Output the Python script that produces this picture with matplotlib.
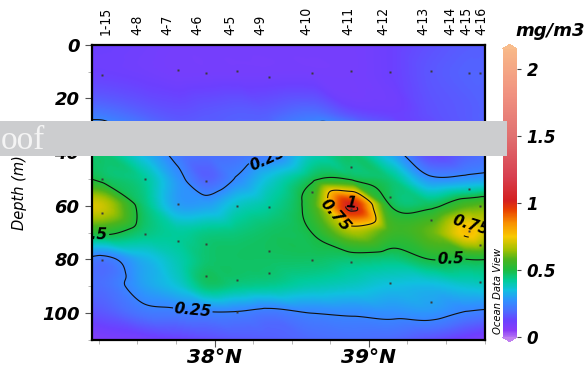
import numpy as np
import matplotlib
matplotlib.use("Agg")
import matplotlib.pyplot as plt
import matplotlib.tri as mtri
from matplotlib.colors import LinearSegmentedColormap, Normalize
from matplotlib.cm import ScalarMappable
from matplotlib.patches import Rectangle
from matplotlib.ticker import MultipleLocator, FixedLocator

# ---------------- data ----------------
station_names = ['1-15', '4-8', '4-7', '4-6', '4-5', '4-9', '4-10',
                 '4-11', '4-12', '4-13', '4-14', '4-15', '4-16']
station_label_lat = [37.293, 37.501, 37.694, 37.888, 38.102, 38.296, 38.598,
                     38.866, 39.093, 39.352, 39.527, 39.635, 39.732]

# gridded chlorophyll (mg/m3) read from the section
grid_lat = [37.20, 37.27, 37.55, 37.76, 37.95, 38.15, 38.35,
            38.63, 38.89, 39.14, 39.40, 39.65, 39.76]
grid_depth = [0, 10, 25, 40, 50, 60, 70, 80, 90, 100, 110]
chl_d0   = [0.12, 0.12, 0.11, 0.10, 0.10, 0.10, 0.10, 0.10, 0.10, 0.12, 0.15, 0.17, 0.17]
chl_d10  = [0.12, 0.12, 0.11, 0.10, 0.10, 0.10, 0.10, 0.10, 0.10, 0.12, 0.16, 0.18, 0.18]
chl_d25  = [0.21, 0.21, 0.17, 0.15, 0.16, 0.17, 0.17, 0.20, 0.14, 0.12, 0.15, 0.17, 0.18]
chl_d40  = [0.45, 0.45, 0.32, 0.22, 0.20, 0.20, 0.22, 0.38, 0.45, 0.30, 0.13, 0.18, 0.20]
chl_d50  = [0.50, 0.48, 0.42, 0.28, 0.18, 0.26, 0.36, 0.48, 0.49, 0.45, 0.27, 0.28, 0.29]
chl_d60  = [0.72, 0.70, 0.45, 0.30, 0.30, 0.38, 0.42, 0.55, 1.02, 0.50, 0.48, 0.58, 0.60]
chl_d70  = [0.52, 0.52, 0.45, 0.42, 0.44, 0.45, 0.47, 0.50, 0.66, 0.56, 0.60, 0.77, 0.70]
chl_d80  = [0.23, 0.22, 0.33, 0.40, 0.46, 0.47, 0.47, 0.47, 0.46, 0.45, 0.50, 0.50, 0.50]
chl_d90  = [0.20, 0.20, 0.30, 0.36, 0.46, 0.44, 0.43, 0.40, 0.38, 0.35, 0.34, 0.37, 0.38]
chl_d100 = [0.15, 0.16, 0.22, 0.23, 0.24, 0.24, 0.22, 0.25, 0.26, 0.27, 0.28, 0.24, 0.23]
chl_d110 = [0.07, 0.08, 0.10, 0.12, 0.14, 0.16, 0.17, 0.19, 0.20, 0.19, 0.15, 0.10, 0.08]

# sample positions (station latitude, depth m)
sample_lat = [37.271]*4 + [37.547]*2 + [37.763]*3 + [37.948]*4 + [38.147]*4 + \
             [38.350]*4 + [38.633]*3 + [38.887]*4 + [39.136]*3 + [39.403]*3 + \
             [39.652]*3 + [39.721]*4
sample_depth = [11.2, 50.1, 62.6, 80.2,
                50.0, 70.6,
                9.4, 59.3, 73.0,
                10.4, 50.6, 74.3, 86.0,
                9.7, 60.1, 87.8, 99.7,
                11.9, 60.6, 76.8, 84.9,
                10.4, 54.9, 80.2,
                9.8, 45.7, 61.3, 80.9,
                10.3, 56.8, 88.6,
                9.7, 65.3, 95.8,
                10.5, 53.9, 69.3,
                10.4, 60.1, 74.6, 88.5]

contour_levels = [0.25, 0.5, 0.75, 1.0]
cbar_ticks = [0, 0.5, 1, 1.5, 2]
lat_ticks = [38, 39]
depth_ticks = [0, 20, 40, 60, 80, 100]

# ---------------- colormap (ODV-like) ----------------
VMIN, VMAX = 0.0, 2.15
cm_nodes = [(0.00, '#b472f2'), (0.05, '#8a3cf8'), (0.12, '#6c40ff'),
            (0.20, '#4a70ff'), (0.27, '#3090ff'), (0.35, '#10c0e0'),
            (0.42, '#00cc9c'), (0.50, '#1cbc40'), (0.58, '#4cb41c'),
            (0.65, '#a0c000'), (0.75, '#f8c800'), (0.85, '#f89000'),
            (0.95, '#e84000'), (1.02, '#d42020'), (1.20, '#d84050'),
            (1.50, '#e07070'), (1.80, '#f09080'), (2.15, '#f8b888')]
cmap = LinearSegmentedColormap.from_list(
    'odv', [((v - VMIN) / (VMAX - VMIN), c) for v, c in cm_nodes], N=512)
cmap.set_under('#c080f0')
cmap.set_over('#f8bc8c')
norm = Normalize(VMIN, VMAX)

# ---------------- figure ----------------
W, H = 588, 369
fig = plt.figure(figsize=(W / 100, H / 100), dpi=100)
ax = fig.add_axes([92 / W, 1 - 340 / H, (485 - 92) / W, (340 - 44.7) / H])

# smooth field through matplotlib.tri cubic interpolation
glat = np.array(grid_lat)
gdep = np.array(grid_depth, dtype=float)
Z = np.array([chl_d0, chl_d10, chl_d25, chl_d40, chl_d50, chl_d60, chl_d70,
              chl_d80, chl_d90, chl_d100, chl_d110])
LAT, DEP = np.meshgrid(glat, gdep)
nx, ny = len(glat), len(gdep)
tris = []
for j in range(ny - 1):
    for i in range(nx - 1):
        a = j * nx + i
        tris.append([a, a + 1, a + nx + 1])
        tris.append([a, a + nx + 1, a + nx])
sx, sy = 154.4, 2.685   # isotropic scaling for the interpolation
tri = mtri.Triangulation(LAT.ravel() * sx, DEP.ravel() * sy, np.array(tris))
interp = mtri.CubicTriInterpolator(tri, Z.ravel(), kind='geom')

x0, x1 = 37.206, 39.753
y0, y1 = 0.0, 110.0
fx = np.linspace(x0, x1, 500)
fy = np.linspace(y0, y1, 300)
FX, FY = np.meshgrid(fx, fy)
F = interp(FX * sx, FY * sy)
F = np.ma.filled(F, np.nan)
F = np.clip(F, 0.0, None)

ax.imshow(F, extent=(x0, x1, y1, y0), origin='upper', aspect='auto',
          cmap=cmap, norm=norm, interpolation='bilinear', zorder=1)
cs = ax.contour(FX, FY, F, levels=contour_levels, colors='#111111',
                linewidths=0.8, zorder=2)
label_pos = [(38.36, 44.5), (37.22, 70), (38.88, 60), (38.72, 67.5),
             (39.66, 67), (39.53, 81), (37.86, 98)]
labels = ax.clabel(cs, manual=label_pos, inline=True, inline_spacing=3,
                   fontsize=11, fmt={0.25: '0.25', 0.5: '0.5', 0.75: '0.75', 1.0: '1'})
for t in labels:
    t.set_fontweight('bold')
    t.set_fontstyle('italic')
    t.set_color('black')

ax.plot(sample_lat, sample_depth, 's', ms=1.8, color='#3a3a3a', mec='none', zorder=3)

ax.set_xlim(x0, x1)
ax.set_ylim(y1, y0)
for s in ax.spines.values():
    s.set_linewidth(1.6)
    s.set_color('black')

ax.xaxis.set_major_locator(FixedLocator(lat_ticks))
ax.xaxis.set_minor_locator(MultipleLocator(0.25))
ax.set_xticklabels([f'{v}°N' for v in lat_ticks])
ax.yaxis.set_major_locator(FixedLocator(depth_ticks))
ax.yaxis.set_minor_locator(MultipleLocator(10))
ax.tick_params(axis='both', which='major', direction='out', length=5, width=0.8, color='#555555')
ax.tick_params(axis='both', which='minor', direction='out', length=3, width=0.6, color='#aaaaaa')
ax.tick_params(axis='x', labelsize=14.5, pad=1)
ax.tick_params(axis='y', labelsize=13, pad=4)
for t in ax.get_xticklabels() + ax.get_yticklabels():
    t.set_fontweight('bold')
    t.set_fontstyle('italic')

ax.set_ylabel('Depth (m)', fontsize=10.5, fontstyle='italic', labelpad=11)

# station labels on top
for name, lat in zip(station_names, station_label_lat):
    ax.annotate(name, xy=(lat, 1.0), xycoords=('data', 'axes fraction'),
                xytext=(0, 10), textcoords='offset pixels', rotation=90,
                ha='center', va='bottom', fontsize=10, fontstretch='condensed')

# colorbar
cax = fig.add_axes([502.7 / W, 1 - 341.7 / H, 14 / W, (341.7 - 44.4) / H])
sm = ScalarMappable(norm=norm, cmap=cmap)
cb = fig.colorbar(sm, cax=cax, extend='both', extendfrac=0.015, ticks=cbar_ticks)
cb.outline.set_visible(False)
cb.ax.set_yticklabels([f'{v:g}' for v in cbar_ticks])
cb.ax.tick_params(length=3, width=0.8, color='#444444', labelsize=12, pad=4)
for t in cb.ax.get_yticklabels():
    t.set_fontweight('bold')
    t.set_fontstyle('italic')
fig.text(550 / W, 1 - 31.5 / H, 'mg/m3', ha='center', va='center',
         fontsize=13, fontweight='bold', fontstyle='italic')
fig.text(498 / W, 1 - 291 / H, 'Ocean Data View', rotation=90, ha='center',
         va='center', fontsize=8, fontstyle='italic', fontstretch='condensed')

# grey overlay band with the visible part of the watermark
fig.add_artist(Rectangle((0, 1 - 156 / H), 506.7 / W, 35 / H, transform=fig.transFigure,
                         facecolor='#cccdcf', edgecolor='none', zorder=10))
fig.text(1 / W, 1 - 149.3 / H, 'oof', ha='left', va='baseline', fontsize=24,
         family='Liberation Serif', color='#f4f4f4', zorder=11)

fig.savefig('out.png', dpi=100)
